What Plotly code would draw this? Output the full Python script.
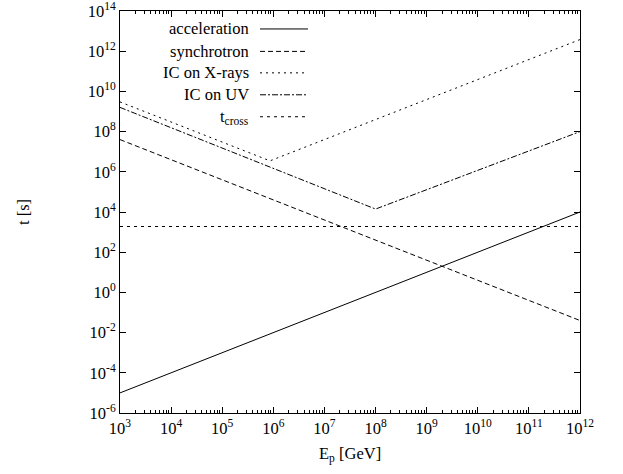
import plotly.graph_objects as go

# ---- data ----
E_acc = [1e3, 1e12]
t_acc = [1e-5, 1e4]
E_syn = [1e3, 1e12]
t_syn = [4e7, 4e-2]
E_icx = [1e3, 8.6e5, 1e12]
t_icx = [3e9, 3.5e6, 3.8e12]
E_icuv = [1e3, 1e8, 1e12]
t_icuv = [1.6e9, 1.4e4, 1e8]
E_cross = [1e3, 1e12]
t_cross = [1.9e3, 1.9e3]

names = ["acceleration", "synchrotron", "IC on X-rays", "IC on UV", "t<sub>cross</sub>"]
dashes = ["solid", "5px,3px", "2px,4px", "6px,2px,2px,2px", "3px,4px"]

x_tickvals = [10.0 ** k for k in range(3, 13)]
x_ticktext = ["10<sup>%d</sup>" % k for k in range(3, 13)]
y_tickvals = [10.0 ** k for k in range(-6, 15, 2)]
y_ticktext = ["10<sup>%d</sup>" % k for k in range(-6, 15, 2)]

FONT = "Liberation Serif"
FS = 16.5
W, H = 623, 474
L, R, T, B = 120, 43, 10.5, 60.5
pw, ph = W - L - R, H - T - B

fig = go.Figure()
series = [(E_acc, t_acc), (E_syn, t_syn), (E_icx, t_icx), (E_icuv, t_icuv), (E_cross, t_cross)]
for (xs, ys), nm, d in zip(series, names, dashes):
    fig.add_trace(go.Scatter(x=xs, y=ys, mode="lines", name=nm, showlegend=False,
                             line=dict(color="black", width=1, dash=d)))

# manual gnuplot-style legend (text right-aligned, sample to the right)
rows_px = [28.5, 51, 72.5, 94.5, 116.5]
for nm, d, ypx in zip(names, dashes, rows_px):
    yp = 1 - (ypx - T) / ph
    fig.add_annotation(x=(251 - L) / pw, y=yp, xref="paper", yref="paper", text=nm,
                       showarrow=False, xanchor="right", yanchor="middle",
                       font=dict(family=FONT, size=FS, color="black"))
    fig.add_shape(type="line", xref="paper", yref="paper",
                  x0=(260 - L) / pw, x1=(308 - L) / pw, y0=yp, y1=yp,
                  line=dict(color="black", width=1, dash=d))

axis_common = dict(showline=True, linecolor="black", linewidth=1, mirror="ticks",
                   ticks="inside", tickcolor="black", showgrid=False, zeroline=False,
                   automargin=False, ticklabeloverflow="allow",
                   tickfont=dict(family=FONT, size=FS, color="black"))

fig.update_xaxes(type="log", range=[3, 12], tickmode="array", tickvals=x_tickvals,
                 ticktext=x_ticktext, ticklen=6,
                 minor=dict(ticks="inside", ticklen=3, dtick="D1", tickcolor="black", showgrid=False),
                 **axis_common)
fig.update_yaxes(type="log", range=[-6, 14], tickmode="array", tickvals=y_tickvals,
                 ticktext=y_ticktext, ticklen=6, **axis_common)

fig.add_annotation(x=0.5, y=-(455 - (T + ph)) / ph, xref="paper", yref="paper",
                   text="E<sub>p</sub> [GeV]", showarrow=False, xanchor="center", yanchor="middle",
                   font=dict(family=FONT, size=FS, color="black"))
fig.add_annotation(x=(23 - L) / pw, y=0.5, xref="paper", yref="paper",
                   text="t [s]", showarrow=False, textangle=-90,
                   xanchor="center", yanchor="middle",
                   font=dict(family=FONT, size=FS, color="black"))

fig.update_layout(width=W, height=H, margin=dict(l=L, r=R, t=T, b=B),
                  plot_bgcolor="white", paper_bgcolor="white",
                  font=dict(family=FONT, size=FS, color="black"))

fig.write_html("out.html", config={"displayModeBar": False},
               post_script="document.body.style.margin='0';document.body.style.overflow='hidden';")
